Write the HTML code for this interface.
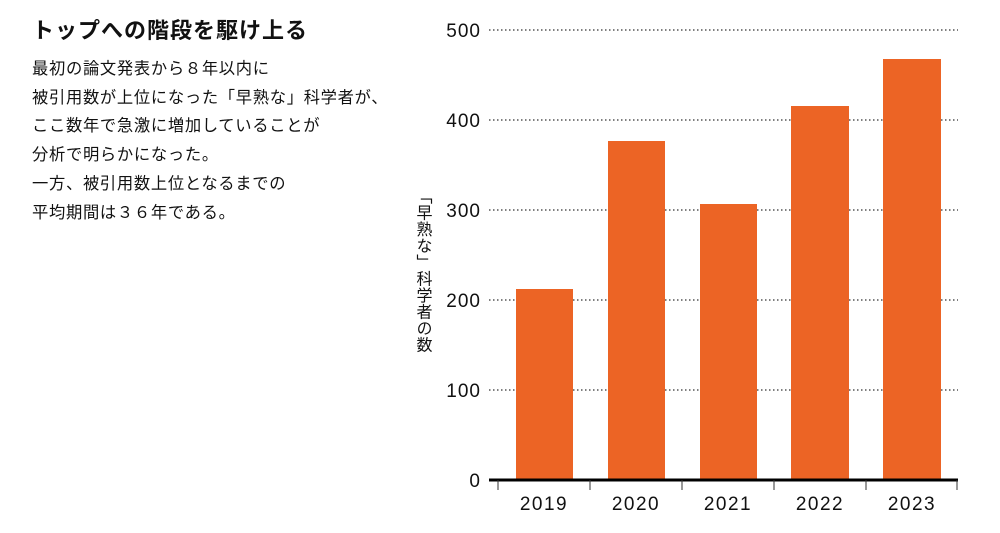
<!DOCTYPE html>
<html><head><meta charset="utf-8"><style>
body{margin:0;width:1000px;height:533px;background:#fff;overflow:hidden;font-family:"Liberation Sans","Noto Sans CJK JP",sans-serif;color:#111}
h1{position:absolute;left:32px;top:13px;margin:0;font-size:22px;font-weight:bold;letter-spacing:1px}
.p{position:absolute;left:32px;top:55px;font-size:16.3px;line-height:28.7px;letter-spacing:0.7px}
</style></head><body>
<h1>トップへの階段を駆け上る</h1>
<div class="p">最初の論文発表から８年以内に<br>被引用数が上位になった「早熟な」科学者が、<br>ここ数年で急激に増加していることが<br>分析で明らかになった。<br>一方、被引用数上位となるまでの<br>平均期間は３６年である。</div>
<svg width="1000" height="533" style="position:absolute;left:0;top:0" font-family="Liberation Sans, Noto Sans CJK JP, sans-serif">
<g stroke="#333" stroke-dasharray="1.5,2.5" stroke-width="1.2">
<line x1="489" x2="958" y1="30" y2="30"/><line x1="489" x2="958" y1="120" y2="120"/><line x1="489" x2="958" y1="210" y2="210"/><line x1="489" x2="958" y1="300" y2="300"/><line x1="489" x2="958" y1="390" y2="390"/>
</g>
<g fill="#ec6425">
<rect x="516" y="289" width="57" height="191"/><rect x="608" y="141" width="57" height="339"/><rect x="700" y="204" width="57" height="276"/><rect x="791" y="106" width="58" height="374"/><rect x="883" y="59" width="58" height="421"/>
</g>
<line x1="489" x2="958" y1="480" y2="480" stroke="#000" stroke-width="3"/>
<g stroke="#333" stroke-width="1"><line x1="498" x2="498" y1="480" y2="490"/><line x1="590" x2="590" y1="480" y2="490"/><line x1="682" x2="682" y1="480" y2="490"/><line x1="774" x2="774" y1="480" y2="490"/><line x1="866" x2="866" y1="480" y2="490"/><line x1="957" x2="957" y1="480" y2="490"/></g>
<g font-size="19" text-anchor="end" fill="#111" letter-spacing="1"><text x="481" y="487">0</text><text x="481" y="397">100</text><text x="481" y="307">200</text><text x="481" y="217">300</text><text x="481" y="127">400</text><text x="481" y="37">500</text></g>
<g font-size="19" text-anchor="middle" fill="#111" letter-spacing="1.5"><text x="544" y="510">2019</text><text x="636" y="510">2020</text><text x="728" y="510">2021</text><text x="820" y="510">2022</text><text x="912" y="510">2023</text></g>
<text x="422" y="188" font-size="16" fill="#111" style="writing-mode:vertical-rl" letter-spacing="0.5">「早熟な」科学者の数</text>
</svg>
</body></html>
